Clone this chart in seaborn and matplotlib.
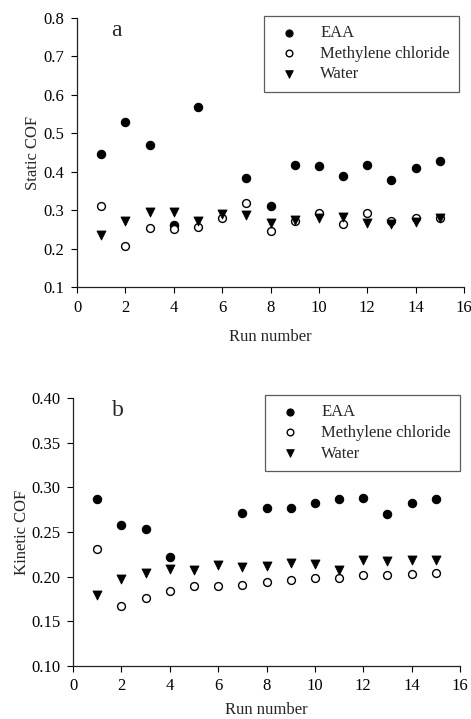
import numpy as np
import pandas as pd
import matplotlib
matplotlib.use("Agg")
import matplotlib.pyplot as plt
import seaborn as sns

# Run numbers and friction coefficients for each lubricant condition
runs = list(range(1, 16))

static_eaa = [0.446, 0.529, 0.469, 0.261, 0.569, np.nan, 0.384, 0.311,
              0.418, 0.415, 0.390, 0.418, 0.378, 0.410, 0.427]
static_mc = [0.311, 0.207, 0.254, 0.250, 0.257, 0.280, 0.319, 0.247,
             0.273, 0.292, 0.263, 0.292, 0.273, 0.279, 0.279]
static_water = [0.235, 0.272, 0.296, 0.296, 0.272, 0.289, 0.287, 0.267,
                0.275, 0.279, 0.281, 0.267, 0.264, 0.270, 0.279]

kinetic_eaa = [0.287, 0.258, 0.253, 0.222, np.nan, np.nan, 0.271, 0.277,
               0.277, 0.282, 0.287, 0.288, 0.270, 0.283, 0.287]
kinetic_mc = [0.231, 0.167, 0.176, 0.184, 0.190, 0.189, 0.191, 0.194,
              0.196, 0.198, 0.199, 0.202, 0.202, 0.203, 0.204]
kinetic_water = [0.179, 0.197, 0.204, 0.209, 0.207, 0.213, 0.211, 0.212,
                 0.215, 0.214, 0.207, 0.219, 0.218, 0.219, 0.219]

series_names = ["EAA", "Methylene chloride", "Water"]
x_ticks = [0, 2, 4, 6, 8, 10, 12, 14, 16]
static_ticks = [0.1, 0.2, 0.3, 0.4, 0.5, 0.6, 0.7, 0.8]
kinetic_ticks = [0.10, 0.15, 0.20, 0.25, 0.30, 0.35, 0.40]

sns.set_style("ticks")
plt.rcParams["font.family"] = ["Liberation Serif", "DejaVu Serif"]
plt.rcParams["font.size"] = 12

fig = plt.figure(figsize=(4.71, 7.19), dpi=100)
ax_top = fig.add_axes([77 / 471, 1 - 287 / 719, 387 / 471, 269 / 719])
ax_bot = fig.add_axes([73 / 471, 1 - 666 / 719, 387 / 471, 268 / 719])

marker_styles = {
    "EAA": dict(marker="o", s=36, color="black", edgecolor="black", linewidth=0.8),
    "Methylene chloride": dict(marker="o", s=32, color="white", edgecolor="black", linewidth=1.0),
    "Water": dict(marker="v", s=42, color="black", edgecolor="black", linewidth=0.6),
}


def draw_panel(ax, values, ticks, fmt, ylabel, letter, letter_xy, legend_anchor,
               xpad, ypad):
    df = pd.DataFrame({"Run": runs, **dict(zip(series_names, values))})
    long = df.melt(id_vars="Run", var_name="Solvent", value_name="COF").dropna()
    for name in series_names:
        sub = long[long["Solvent"] == name]
        sns.scatterplot(data=sub, x="Run", y="COF", ax=ax, label=name,
                        zorder=3, **marker_styles[name])
    ax.set_xlim(0, 16)
    ax.set_ylim(ticks[0], ticks[-1])
    ax.set_xticks(x_ticks)
    ax.set_yticks(ticks)
    ax.set_yticklabels([fmt.format(t) for t in ticks])
    ax.set_xlabel("Run number", fontsize=12, labelpad=xpad)
    ax.set_ylabel(ylabel, fontsize=12, labelpad=ypad)
    ax.tick_params(direction="out", length=4, width=0.8, colors="black", labelsize=12, pad=5)
    for side in ("top", "right"):
        ax.spines[side].set_visible(False)
    for side in ("left", "bottom"):
        ax.spines[side].set_linewidth(0.9)
        ax.spines[side].set_color("#222222")
    ax.text(letter_xy[0], letter_xy[1], letter, transform=ax.transAxes,
            fontsize=17, ha="center", va="center")
    leg = ax.legend(loc="upper right", bbox_to_anchor=legend_anchor,
                    bbox_transform=fig.transFigure, borderaxespad=0,
                    frameon=True, fancybox=False, fontsize=12,
                    labelspacing=0.28, handlelength=1.8, handletextpad=1.0,
                    borderpad=0.55, markerscale=0.85)
    leg.get_frame().set_edgecolor("#333333")
    leg.get_frame().set_linewidth(0.9)


draw_panel(ax_top, [static_eaa, static_mc, static_water], static_ticks,
           "{:.1f}", "Static COF", "a", (0.103, 0.955), (459 / 471, 1 - 16 / 719),
           xpad=10, ypad=2)
draw_panel(ax_bot, [kinetic_eaa, kinetic_mc, kinetic_water], kinetic_ticks,
           "{:.2f}", "Kinetic COF", "b", (0.116, 0.952), (460 / 471, 1 - 395 / 719),
           xpad=5.5, ypad=1)

fig.savefig("out.png", dpi=100)
